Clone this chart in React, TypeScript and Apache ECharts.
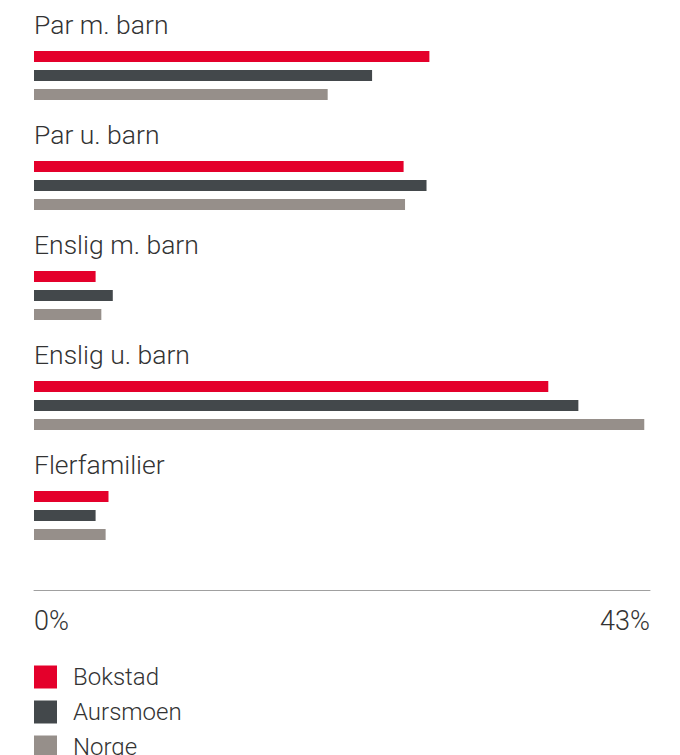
import React, { useEffect, useRef } from "react";
import * as echarts from "echarts";

const categories = ["Par m. barn", "Par u. barn", "Enslig m. barn", "Enslig u. barn", "Flerfamilier"];
const bokstad = [27.6, 25.8, 4.3, 35.9, 5.2];
const aursmoen = [23.6, 27.4, 5.5, 38.0, 4.3];
const norge = [20.5, 25.9, 4.7, 42.6, 5.0];
const seriesNames = ["Bokstad", "Aursmoen", "Norge"];
const axisMax = 43;

const FONT = "Roboto";

export default function App() {
  const ref = useRef<HTMLDivElement>(null);
  useEffect(() => {
    if (!ref.current) return;
    const chart = echarts.init(ref.current, null, { renderer: "svg" });
    const colors = ["#e4002b", "#43484b", "#968f8a"];
    const data = [bokstad, aursmoen, norge];
    chart.setOption({
      animation: false,
      textStyle: { fontFamily: FONT },
      grid: { left: 34, right: 30, top: 20.5, height: 550, containLabel: false },
      legend: {
        orient: "vertical",
        left: 34,
        top: 665,
        padding: 0,
        itemWidth: 23,
        itemHeight: 23,
        itemGap: 11,
        icon: "rect",
        data: seriesNames,
        textStyle: {
          fontSize: 24,
          lineHeight: 23,
          color: "#333",
          fontWeight: 300,
          fontFamily: FONT,
          padding: [0, 0, 0, 11],
        },
        selectedMode: false,
      },
      xAxis: {
        type: "value",
        min: 0,
        max: axisMax,
        interval: axisMax,
        position: "bottom",
        offset: 19.5,
        axisLine: { show: true, lineStyle: { color: "#a0a0a0", width: 1 } },
        axisTick: { show: false },
        splitLine: { show: false },
        axisLabel: {
          formatter: (v: number) => `${v}%`,
          fontSize: 27,
          color: "#333",
          fontWeight: 300,
          fontFamily: FONT,
          margin: 17,
          alignMinLabel: "left",
          alignMaxLabel: "right",
        },
      },
      yAxis: {
        type: "category",
        data: categories,
        inverse: true,
        axisLine: { show: false },
        axisTick: { show: false },
        axisLabel: {
          inside: true,
          margin: 0,
          align: "left",
          verticalAlign: "middle",
          formatter: (v: string) => `{a|${v}}`,
          rich: {
            a: {
              fontSize: 26.5,
              color: "#333",
              fontWeight: 300,
              fontFamily: FONT,
              padding: [0, 0, 102, 0],
            },
          },
        },
      },
      series: seriesNames.map((name, i) => ({
        name,
        type: "bar",
        data: data[i],
        barWidth: 11,
        barGap: "72.7%",
        itemStyle: { color: colors[i] },
      })),
    });
    return () => chart.dispose();
  }, []);
  return (
    <div
      ref={ref}
      style={{ position: "absolute", left: 0, top: 0, width: 680, height: 780, background: "#fff" }}
    />
  );
}
